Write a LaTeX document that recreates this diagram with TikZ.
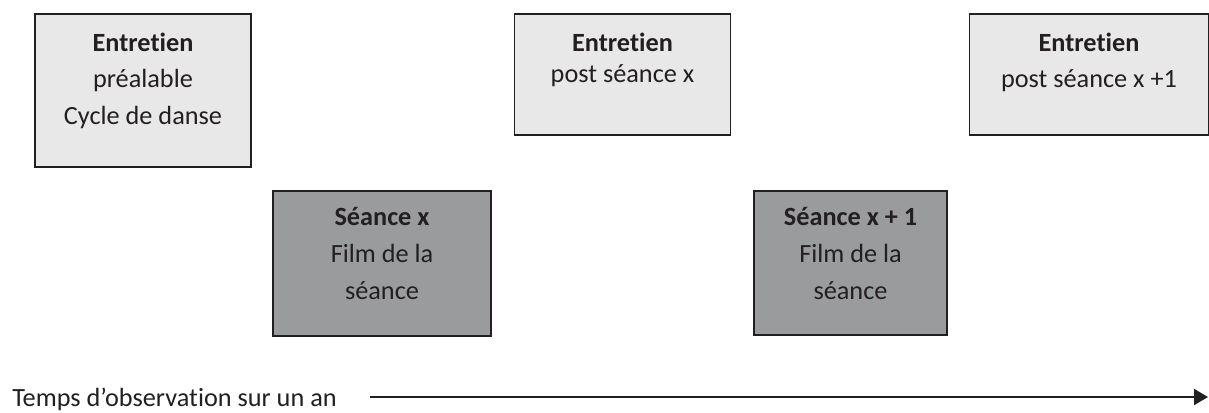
\documentclass[tikz,border=0pt]{standalone}
\usepackage{fontspec}
\setmainfont{Carlito}[Ligatures=NoCommon]
\usetikzlibrary{arrows.meta,positioning}
\definecolor{boxlight}{HTML}{E8E8E8}
\definecolor{boxdark}{HTML}{9A9B9C}
\definecolor{ink}{HTML}{231F20}
\newcommand{\boxlines}[1]{\begin{tabular}[t]{@{}c@{}}#1\end{tabular}}
\tikzstyle{entretien} = [rectangle, draw=ink, line width=1.4pt, fill=boxlight, inner sep=0pt]
\tikzstyle{seance} = [rectangle, draw=ink, line width=1.4pt, fill=boxdark, inner sep=0pt]
\tikzstyle{boxtext} = [text=ink, inner sep=0pt, anchor=base, font=\fontsize{19.7}{27.5}\selectfont]
\tikzstyle{arrow} = [draw=ink, line width=1.5pt, -{Triangle[length=10.5pt,width=12pt]}]

\begin{document}
\begin{tikzpicture}[x=0.75pt, y=-0.75pt]
\useasboundingbox (0,0) rectangle (1209,412);

% entretiens
\node (e1) [entretien, minimum width=162pt, minimum height=114.75pt] at (143,90.5) {};
\node (e2) [entretien, minimum width=162pt, minimum height=90.75pt] at (622.5,74.5) {};
\node (e3) [entretien, minimum width=179.25pt, minimum height=90.75pt] at (1089,74.5) {};

% seances
\node (s1) [seance, minimum width=163.5pt, minimum height=108.75pt] at (382,263.5) {};
\node (s2) [seance, minimum width=144.75pt, minimum height=108pt] at (850.5,263) {};

\node (t1) [boxtext] at ([yshift=-28.5pt]e1.north) {\boxlines{\textbf{Entretien}\\préalable\\Cycle de danse}};
\node (t2) [boxtext] at ([yshift=-28.5pt]e2.north) {\boxlines{\textbf{Entretien}\\[-3.75pt]post séance x}};
\node (t3) [boxtext] at ([yshift=-28.5pt]e3.north) {\boxlines{\textbf{Entretien}\\post séance x +1}};
\node (t4) [boxtext] at ([yshift=-26.8pt]s1.north) {\boxlines{\textbf{Séance x}\\Film de la\\séance}};
\node (t5) [boxtext] at ([yshift=-26.8pt]s2.north) {\boxlines{\textbf{Séance x + 1}\\Film de la\\séance}};

% axe du temps
\node (temps) [anchor=base west, text=ink, inner sep=0pt, font=\fontsize{19.7}{27.5}\selectfont] at (12,406) {Temps d’observation sur un an};
\coordinate (tstart) at (370,397);
\coordinate (tend) at (1208,397);
\draw [arrow] (tstart) -- (tend);
\end{tikzpicture}
\end{document}
